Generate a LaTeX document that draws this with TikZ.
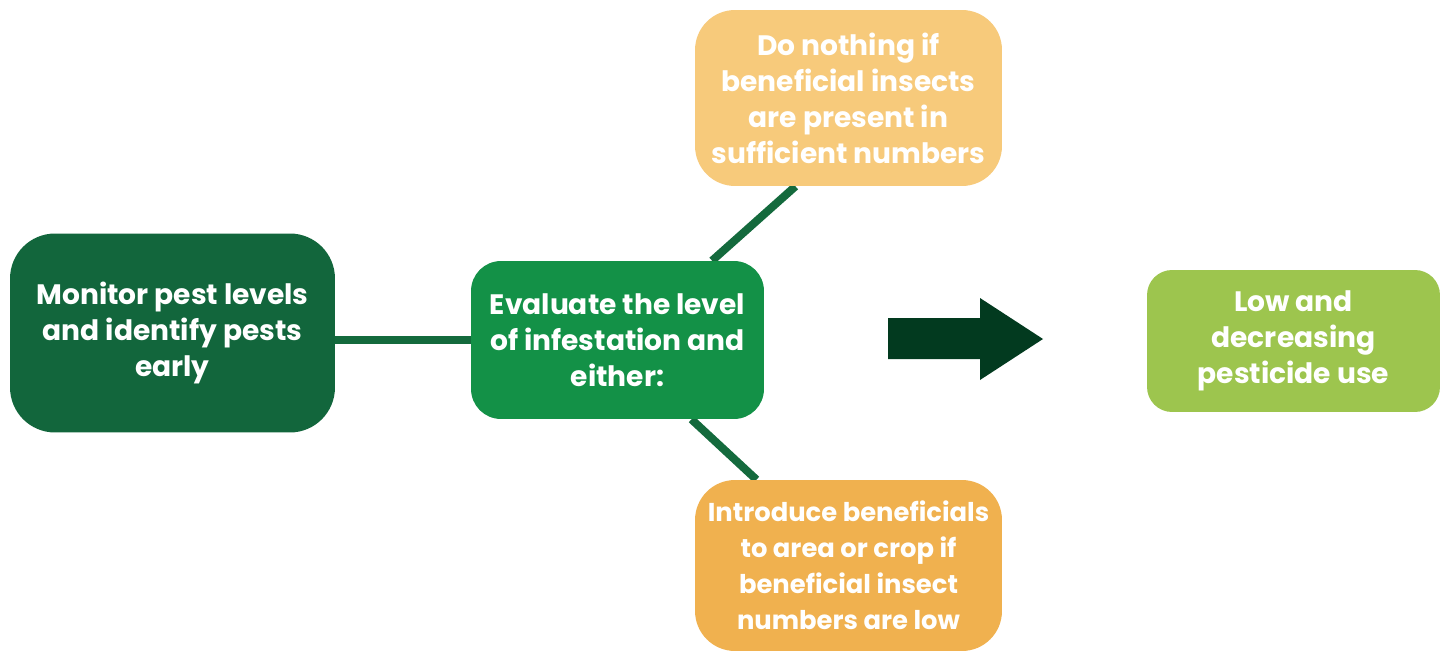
\documentclass[tikz,border=0pt]{standalone}
\usepackage{fontspec}
\setmainfont{Poppins}
\usetikzlibrary{backgrounds}
\definecolor{monitorgreen}{HTML}{12663C}
\definecolor{evalgreen}{HTML}{139147}
\definecolor{nothingorange}{HTML}{F7CA7B}
\definecolor{introorange}{HTML}{F0B14F}
\definecolor{lowgreen}{HTML}{9DC54E}
\definecolor{arrowgreen}{HTML}{023A1F}
\definecolor{linkgreen}{HTML}{146A3D}

\tikzset{
  box/.style={inner sep=0pt, align=center, text=white},
  link/.style={draw=linkgreen, line width=8*0.02cm}
}

\begin{document}
\begin{tikzpicture}[x=0.02cm, y=-0.02cm, font=\fontsize{16}{20.5}\selectfont\bfseries]
\useasboundingbox (0,0) rectangle (1443,652);

\node (Mon) at (172.5,333) [box, fill=monitorgreen, minimum width=6.5cm, minimum height=3.98cm, rounded corners=0.9cm] {Monitor pest levels\\and identify pests\\early};
\node (Eval) at (617.5,340) [box, fill=evalgreen, minimum width=5.86cm, minimum height=3.16cm, rounded corners=0.6cm] {Evaluate the level\\of infestation and\\either:};
\node (Noth) at (848.5,98) [box, fill=nothingorange, minimum width=6.14cm, minimum height=3.52cm, rounded corners=0.8cm] {Do nothing if\\beneficial insects\\are present in\\sufficient numbers};
\node (Intro) at (848.5,565.5) [box, fill=introorange, minimum width=6.14cm, minimum height=3.42cm, rounded corners=0.8cm, font=\fontsize{14.7}{20.5}\selectfont\bfseries] {Introduce beneficials\\to area or crop if\\beneficial insect\\numbers are low};
\node (Low) at (1293.5,341) [box, fill=lowgreen, minimum width=5.86cm, minimum height=2.84cm, rounded corners=0.5cm] {Low and\\decreasing\\pesticide use};

\begin{scope}[on background layer]
\fill [white] (0,0) rectangle (1443,652);
\draw [link] (Mon.east |- Eval.west) -- (Eval.west);
\draw [link] (Eval.40) -- (Noth.239);
\draw [link] (Eval.-47) -- (Intro.137);
\end{scope}

% block arrow
\fill [arrowgreen] (888,318) -- (980,318) -- (980,298) -- (1043,339) -- (980,380) -- (980,359) -- (888,359) -- cycle;
\end{tikzpicture}
\end{document}
